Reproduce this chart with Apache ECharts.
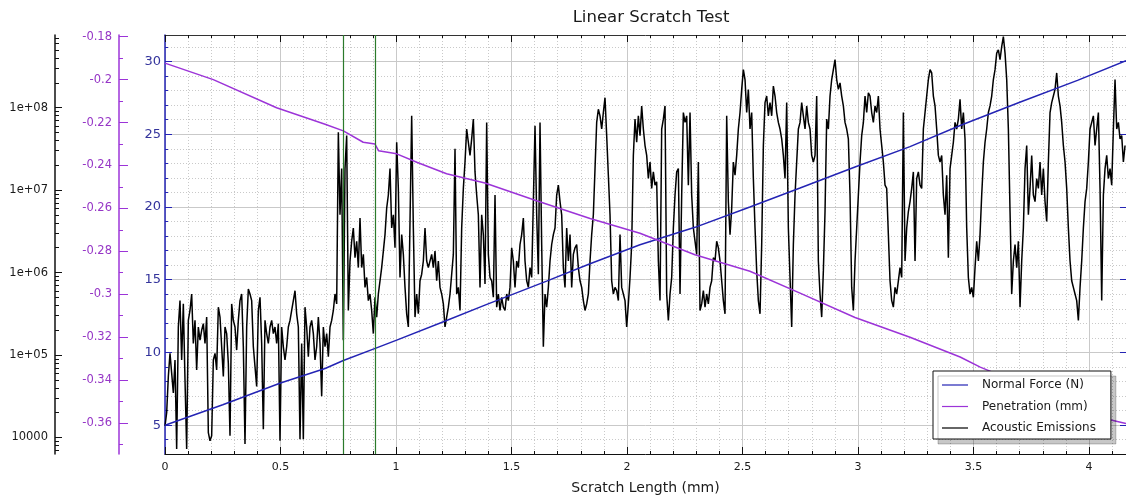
<!DOCTYPE html>
<html><head><meta charset="utf-8">
<script src="https://cdn.jsdelivr.net/npm/echarts@6/dist/echarts.min.js"></script>
<style>html,body{margin:0;padding:0;background:#fff}#c{width:1126px;height:500px}</style>
</head><body><div id="c"></div>
<script>
const titleText = 'Linear Scratch Test';
const xAxisName = 'Scratch Length (mm)';
const legendNames = ['Normal Force (N)', 'Penetration (mm)', 'Acoustic Emissions'];
const xTickValues = [0, 0.5, 1, 1.5, 2, 2.5, 3, 3.5, 4];
const forceTickValues = [5, 10, 15, 20, 25, 30];
const penTickValues = [-0.18, -0.2, -0.22, -0.24, -0.26, -0.28, -0.3, -0.32, -0.34, -0.36];
const aeTickExps = [4, 5, 6, 7, 8];
const aeTickLabels = ['10000', '1e+05', '1e+06', '1e+07', '1e+08'];

// Normal force (N) vs scratch length (mm)
const forceX = [0, 0.25, 0.5, 0.693, 0.772, 0.913, 1.003, 1.219, 1.385, 1.652, 1.84, 2.056, 2.294, 2.532, 2.749, 2.987, 3.225, 3.442, 3.7, 3.95, 4.16];
const forceY = [5.0, 6.4, 7.9, 8.9, 9.45, 10.3, 10.85, 12.2, 13.25, 14.9, 16.1, 17.4, 18.6, 20.0, 21.3, 22.75, 24.15, 25.6, 27.2, 28.7, 30.05];

// Penetration (mm) vs scratch length (mm)
const penX = [0, 0.209, 0.483, 0.693, 0.772, 0.858, 0.909, 0.924, 1.003, 1.09, 1.219, 1.385, 1.602, 1.84, 2.056, 2.294, 2.532, 2.749, 2.987, 3.225, 3.442, 3.529, 3.8, 4.09, 4.16];
const penY = [-0.1923, -0.2000, -0.2131, -0.2208, -0.2239, -0.2292, -0.2300, -0.2331, -0.2346, -0.2385, -0.2439, -0.2482, -0.2562, -0.2647, -0.2716, -0.2816, -0.2893, -0.2995, -0.3109, -0.3201, -0.3293, -0.3340, -0.3460, -0.3585, -0.3603];

// Acoustic emissions, log10 of counts, sampled every AE_STEP mm from 0
const AE_STEP = 0.007215;
const aeLog10 = [
4.14,4.30,4.74,5.02,4.78,4.54,4.94,3.86,5.34,5.66,
4.94,5.62,4.70,3.86,5.42,5.54,5.74,5.14,5.42,4.82,
5.34,5.18,5.30,5.38,5.14,5.46,4.06,3.96,4.02,4.94,
5.02,4.82,5.58,5.46,5.10,4.74,5.34,5.26,4.90,4.02,
5.62,5.42,5.34,5.06,5.42,5.66,5.74,5.10,3.92,5.34,
5.80,5.74,5.66,5.10,4.86,4.62,5.54,5.70,5.14,4.10,
5.42,5.26,5.14,5.34,5.42,5.26,5.34,5.14,5.38,3.96,
5.34,5.10,4.94,5.10,5.34,5.42,5.54,5.66,5.78,5.50,
5.34,3.98,5.14,3.98,5.58,5.34,4.98,5.34,5.42,5.26,
4.94,5.10,5.46,
5.14,4.50,5.34,5.10,5.26,4.98,5.34,5.42,5.54,5.74,
5.62,7.70,6.70,7.26,5.18,7.26,7.66,5.54,6.14,6.38,
6.54,6.18,6.38,6.06,6.66,6.06,6.22,5.82,5.94,5.66,
5.74,5.54,5.26,5.70,5.46,5.74,5.90,6.06,6.26,6.46,
6.78,6.94,7.26,6.54,6.70,6.30,7.58,7.02,5.94,6.46,
6.22,5.82,5.50,5.34,6.62,7.90,6.54,5.46,5.74,5.50,
5.90,5.98,6.14,6.54,6.14,6.06,6.06,6.22,6.06,6.26,
5.90,6.14,5.82,5.74,5.62,5.34,5.46,5.58,5.74,5.98,
6.22,7.50,5.74,5.82,5.54,6.54,7.02,7.34,7.74,7.58,
7.42,7.62,7.86,7.22,6.94,6.70,
5.82,6.70,6.46,5.86,7.82,6.22,5.94,5.90,5.70,6.94,
5.58,5.74,5.54,5.70,5.58,5.54,5.74,5.66,5.82,6.30,
6.14,5.82,6.14,6.06,6.34,6.46,6.66,6.14,5.90,5.82,
6.06,5.94,6.86,7.78,6.70,5.98,7.82,6.34,5.10,5.74,
5.58,5.82,6.14,6.34,6.46,6.54,6.94,7.06,6.86,6.70,
6.06,5.82,6.54,6.14,6.46,5.82,6.22,6.30,6.34,6.06,
5.90,5.82,5.66,5.54,5.62,5.74,6.14,6.46,6.70,7.26,
7.82,7.98,7.90,7.74,7.94,8.12,7.66,7.18,6.70,5.90,
5.74,5.82,5.78,5.66,6.46,5.82,5.74,5.66,5.34,5.62,
5.94,6.34,7.42,7.86,7.58,7.90,
7.66,8.02,7.74,7.54,7.42,7.14,7.34,7.02,7.22,7.06,
7.10,6.14,5.66,7.74,7.86,8.02,5.74,5.42,5.74,5.94,
6.54,6.94,7.22,7.26,5.74,6.94,7.94,7.82,7.90,7.06,
7.94,6.94,6.54,6.38,6.22,7.34,5.54,5.62,5.78,5.58,
5.74,5.62,5.82,5.90,6.18,6.14,6.38,6.30,6.14,5.90,
5.66,5.50,7.90,6.86,6.46,6.78,7.34,7.18,7.42,7.74,
7.94,8.22,8.46,8.34,7.94,8.22,7.74,7.94,7.14,6.54,
6.02,5.66,5.50,6.34,7.54,8.06,8.14,7.90,8.06,7.90,
8.26,8.14,7.94,7.82,7.74,7.62,7.42,7.14,8.06,6.54,
5.94,5.34,6.34,6.94,7.34,7.74,
7.82,8.06,7.90,7.74,8.02,7.82,7.74,7.42,7.34,7.42,
8.14,6.14,5.74,5.46,6.02,6.74,7.86,7.74,8.14,8.34,
8.46,8.58,8.34,8.22,8.30,8.14,8.02,7.82,7.74,7.62,
6.94,5.82,5.54,6.14,6.54,6.94,7.34,7.66,7.82,8.14,
7.94,8.18,8.14,7.94,7.82,8.02,7.94,8.14,7.74,7.54,
7.34,7.06,7.02,6.46,5.90,5.66,5.58,5.82,5.74,5.90,
6.06,5.94,7.94,6.14,6.54,6.74,6.86,7.02,7.22,6.14,
7.14,7.22,7.06,7.02,7.74,7.94,8.14,8.34,8.46,8.42,
8.14,8.02,7.74,7.42,7.34,7.42,6.94,6.70,7.18,6.18,
7.26,7.42,7.58,7.82,7.74,7.86,
8.10,7.74,7.94,7.62,6.54,5.94,5.74,5.82,5.70,6.06,
6.38,6.14,6.46,6.94,7.34,7.58,7.74,7.94,8.02,8.14,
8.34,8.46,8.66,8.70,8.58,8.74,8.86,8.66,8.34,7.74,
6.74,5.74,6.14,6.34,6.06,6.38,5.58,6.14,6.54,7.26,
7.54,6.70,7.02,7.42,6.94,6.86,7.14,7.02,7.34,6.94,
7.26,6.86,6.62,7.34,7.94,8.06,8.14,8.22,8.42,8.14,
8.02,7.82,7.54,7.34,7.02,6.54,6.14,5.90,5.82,5.74,
5.66,5.42,5.82,6.14,6.54,6.86,7.02,7.34,7.74,7.82,
7.90,7.54,7.74,7.94,7.02,5.66,6.94,7.26,7.42,7.14,
7.26,7.06,7.74,8.34,7.74,7.82,7.62,7.66,7.34,7.54
];

// vertical marker lines (mm)
const greenMarks = [0.772, 0.913];

// axis extents
const X_MIN = 0, X_MAX = 4.16;
const F_MIN = 3.02, F_MAX = 31.82;
const P_MIN = -0.3745, P_MAX = -0.1792;
const AE_MIN = 3.80, AE_MAX = 8.88;

const FONT = '"DejaVu Sans", Verdana, sans-serif';
const BLUE = '#2424b4', PURPLE = '#9c34d8', BLUE_TXT = '#34349c', PURPLE_TXT = '#9636c6';
const GRID_C = '#c9c9c9';

function range(a, b, step, skip) {
  const out = [];
  const n = Math.round((b - a) / step);
  for (let i = 0; i <= n; i++) {
    const v = +(a + i * step).toFixed(6);
    if (!skip || !skip(v)) out.push(v);
  }
  return out;
}
const isMul = (v, m) => Math.abs(v / m - Math.round(v / m)) < 1e-6;
const xMinor = range(0, 4.1, 0.1, v => isMul(v, 0.5));
const fMinor = range(4, 31, 1, v => isMul(v, 5));
const pMinor = range(-0.37, -0.19, 0.02);
const aeMinor = [];
for (let e = 3; e <= 8; e++) for (let k = 2; k <= 9; k++) {
  const v = e + Math.log10(k);
  if (v > AE_MIN && v < AE_MAX) aeMinor.push(v);
}

const forceData = forceX.map((x, i) => [x, forceY[i]]);
const penData = penX.map((x, i) => [x, penY[i]]);
const aeData = aeLog10.map((v, i) => [+(i * AE_STEP).toFixed(5), v]);

const hidden = { show: false };
const noLine = { show: false, onZero: false };
const chart = echarts.init(document.getElementById('c'), null, { renderer: 'canvas' });
chart.setOption({
  animation: false,
  backgroundColor: '#ffffff',
  textStyle: { fontFamily: FONT },
  title: {
    text: titleText, left: 646, top: 4, textAlign: 'center',
    textStyle: { fontFamily: FONT, fontSize: 16.5, fontWeight: 'normal', color: '#1a1a1a' }
  },
  grid: { left: 165, right: 0, top: 35, bottom: 42 },
  legend: {
    data: legendNames, orient: 'vertical', left: 933, top: 371,
    padding: [8, 15, 5, 9], itemGap: 9.5, itemWidth: 26, itemHeight: 12,
    icon: 'path://M0,5.4 L26,5.4 L26,6.6 L0,6.6 Z',
    backgroundColor: '#ffffff', borderColor: '#111', borderWidth: 1, borderRadius: 0,
    shadowColor: 'rgba(0,0,0,0.22)', shadowBlur: 0, shadowOffsetX: 5, shadowOffsetY: 5,
    textStyle: { fontFamily: FONT, fontSize: 12, color: '#1a1a1a', padding: [0, 0, 0, 9] },
    selectedMode: false
  },
  xAxis: [
    {
      type: 'value', min: X_MIN, max: X_MAX, position: 'bottom',
      name: xAxisName, nameLocation: 'middle', nameGap: 27,
      nameTextStyle: { fontFamily: FONT, fontSize: 14, color: '#1a1a1a' },
      axisLine: { onZero: false, lineStyle: { color: '#111', width: 1 } },
      axisTick: { inside: true, length: 7, customValues: xTickValues, lineStyle: { color: '#111' } },
      axisLabel: { customValues: xTickValues, color: '#1a1a1a', fontSize: 11, margin: 8 },
      splitLine: { show: true, lineStyle: { color: GRID_C, width: 1 } }
    },
    {
      type: 'value', min: X_MIN, max: X_MAX, position: 'bottom',
      axisLine: noLine, axisLabel: hidden,
      axisTick: { inside: true, length: 3, customValues: xMinor, lineStyle: { color: '#111' } },
      splitLine: { show: true, lineStyle: { color: GRID_C, type: [1, 2], width: 1 } }
    },
    {
      type: 'value', min: X_MIN, max: X_MAX, position: 'top',
      axisLine: { onZero: false, lineStyle: { color: '#333', width: 1 } }, axisLabel: hidden,
      axisTick: { inside: true, length: 7, customValues: xTickValues, lineStyle: { color: '#111' } },
      splitLine: hidden
    },
    {
      type: 'value', min: X_MIN, max: X_MAX, position: 'top',
      axisLine: noLine, axisLabel: hidden,
      axisTick: { inside: true, length: 3, customValues: xMinor, lineStyle: { color: '#111' } },
      splitLine: hidden
    }
  ],
  yAxis: [
    { // 0 normal force
      type: 'value', min: F_MIN, max: F_MAX, position: 'left', offset: 0,
      axisLine: { show: true, onZero: false, lineStyle: { color: BLUE, width: 1.5 } },
      axisTick: { show: true, inside: true, length: 7, customValues: forceTickValues, lineStyle: { color: BLUE } },
      axisLabel: { customValues: forceTickValues, color: BLUE_TXT, fontSize: 13, margin: 4 },
      splitLine: { show: true, lineStyle: { color: GRID_C, width: 1 } }
    },
    { // 1 force minor
      type: 'value', min: F_MIN, max: F_MAX, position: 'left', offset: 0,
      axisLine: noLine, axisLabel: hidden,
      axisTick: { show: true, inside: true, length: 3, customValues: fMinor, lineStyle: { color: BLUE } },
      splitLine: { show: true, lineStyle: { color: GRID_C, type: [1, 2], width: 1 } }
    },
    { // 2 force right edge
      type: 'value', min: F_MIN, max: F_MAX, position: 'right', offset: 0,
      axisLine: { show: true, onZero: false, lineStyle: { color: BLUE } }, axisLabel: hidden,
      axisTick: { show: true, inside: true, length: 6, customValues: forceTickValues, lineStyle: { color: BLUE } },
      splitLine: hidden
    },
    { // 3 penetration
      type: 'value', min: P_MIN, max: P_MAX, position: 'left', offset: 46,
      axisLine: { show: true, onZero: false, lineStyle: { color: PURPLE, width: 1.5 } },
      axisTick: { show: true, inside: true, length: 9, customValues: penTickValues, lineStyle: { color: PURPLE } },
      axisLabel: { customValues: penTickValues, color: PURPLE_TXT, fontSize: 11.5, margin: 7,
        formatter: v => String(+(+v).toFixed(2)) },
      splitLine: hidden
    },
    { // 4 penetration minor
      type: 'value', min: P_MIN, max: P_MAX, position: 'left', offset: 46,
      axisLine: noLine, axisLabel: hidden,
      axisTick: { show: true, inside: true, length: 4, customValues: pMinor, lineStyle: { color: PURPLE } },
      splitLine: hidden
    },
    { // 5 acoustic emission (log10)
      type: 'value', min: AE_MIN, max: AE_MAX, position: 'left', offset: 110,
      axisLine: { show: true, onZero: false, lineStyle: { color: '#111', width: 1.5 } },
      axisTick: { show: true, inside: true, length: 7, customValues: aeTickExps, lineStyle: { color: '#111' } },
      axisLabel: { customValues: aeTickExps, color: '#1a1a1a', fontSize: 11.5, margin: 7,
        formatter: v => aeTickLabels[aeTickExps.indexOf(Math.round(v))] },
      splitLine: hidden
    },
    { // 6 AE minor
      type: 'value', min: AE_MIN, max: AE_MAX, position: 'left', offset: 110,
      axisLine: noLine, axisLabel: hidden,
      axisTick: { show: true, inside: true, length: 4, customValues: aeMinor, lineStyle: { color: '#111' } },
      splitLine: hidden
    }
  ],
  series: [
    {
      name: legendNames[2], type: 'line', xAxisIndex: 0, yAxisIndex: 5, data: aeData,
      symbol: 'none', z: 2, color: '#000',
      lineStyle: { color: '#000', width: 1.5 },
      markLine: {
        silent: true, symbol: ['none', 'none'], label: { show: false },
        lineStyle: { color: '#2b7a2b', type: 'solid', width: 1.2 },
        data: greenMarks.map(v => ({ xAxis: v }))
      }
    },
    {
      name: legendNames[0], type: 'line', xAxisIndex: 0, yAxisIndex: 0, data: forceData,
      symbol: 'none', z: 3, color: BLUE, lineStyle: { color: BLUE, width: 1.5 }
    },
    {
      name: legendNames[1], type: 'line', xAxisIndex: 0, yAxisIndex: 3, data: penData,
      symbol: 'none', z: 3, color: PURPLE, lineStyle: { color: PURPLE, width: 1.5 }
    }
  ]
});
</script></body></html>
